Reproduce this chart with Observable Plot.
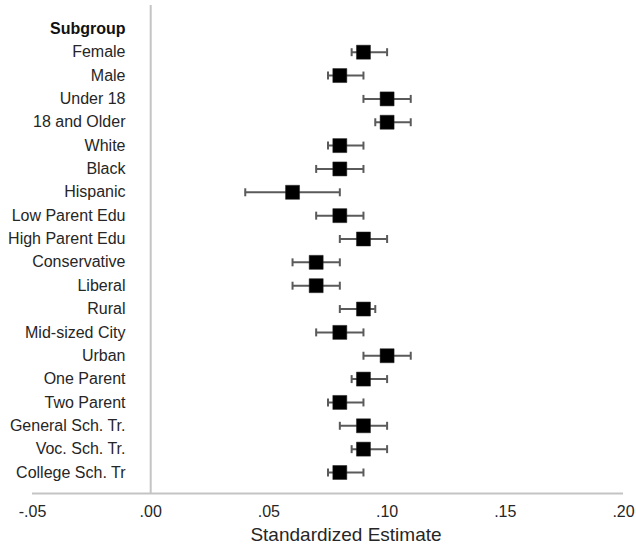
<!DOCTYPE html>
<html>
<head>
<meta charset="utf-8">
<script src="https://cdn.jsdelivr.net/npm/d3@7"></script>
<script src="https://cdn.jsdelivr.net/npm/@observablehq/plot@0.6"></script>
<style>
  html, body { margin: 0; padding: 0; background: #fff; }
  #chart { width: 636px; height: 554px; }
</style>
</head>
<body>
<div id="chart"></div>
<script>
const header = "Subgroup";
const groups = ["Female","Male","Under 18","18 and Older","White","Black","Hispanic",
  "Low Parent Edu","High Parent Edu","Conservative","Liberal","Rural","Mid-sized City",
  "Urban","One Parent","Two Parent","General Sch. Tr.","Voc. Sch. Tr.","College Sch. Tr"];
const estimates = [0.09,0.08,0.10,0.10,0.08,0.08,0.06,0.08,0.09,0.07,0.07,0.09,0.08,0.10,0.09,0.08,0.09,0.09,0.08];
const lower = [0.085,0.075,0.09,0.095,0.075,0.07,0.04,0.07,0.08,0.06,0.06,0.08,0.07,0.09,0.085,0.075,0.08,0.085,0.075];
const upper = [0.10,0.09,0.11,0.11,0.09,0.09,0.08,0.09,0.10,0.08,0.08,0.095,0.09,0.11,0.10,0.09,0.10,0.10,0.09];
const xTicks = [-0.05, 0, 0.05, 0.10, 0.15, 0.20];
const xLabel = "Standardized Estimate";

const rows = groups.map((g, i) => ({group: g, row: i + 1, est: estimates[i], lo: lower[i], hi: upper[i]}));
const fmt = d => d3.format(".2f")(d).replace("0.", ".").replace("\u2212", "-");
const capSymbol = {draw(ctx, size) { const h = Math.sqrt(size); ctx.moveTo(0, -h / 2); ctx.lineTo(0, h / 2); }};
const barColor = "#5a5a5a";
const gridColor = "#c4c4c4";
const textColor = "#262626";

const chart = Plot.plot({
  width: 636,
  height: 554,
  marginTop: 5,
  marginBottom: 61,
  marginLeft: 32,
  marginRight: 13,
  style: {fontFamily: "'Liberation Sans', Arial, sans-serif", background: "#fff", color: textColor},
  x: {domain: [-0.05, 0.20], ticks: xTicks, tickFormat: fmt},
  y: {domain: [19.9, -1], axis: null},
  marks: [
    Plot.ruleX([0], {stroke: gridColor, strokeWidth: 2}),
    Plot.ruleY([19.9], {stroke: gridColor, strokeWidth: 2}),
    Plot.axisX({ticks: xTicks, tickFormat: fmt, tickSize: 0, tickPadding: 12, fontSize: 16, label: null, fill: textColor}),
    Plot.text([xLabel], {frameAnchor: "bottom", dy: 47, dx: 18, text: d => d, fontSize: 19, fill: textColor}),
    Plot.text([header], {frameAnchor: "left", y: () => 0, dx: 93, text: d => d, textAnchor: "end", fontSize: 16, fontWeight: "bold", fill: "#111"}),
    Plot.text(rows, {frameAnchor: "left", y: "row", dx: 93, text: "group", textAnchor: "end", fontSize: 16, fill: textColor}),
    Plot.ruleY(rows, {y: "row", x1: "lo", x2: "hi", stroke: barColor, strokeWidth: 2}),
    Plot.dot(rows, {x: "lo", y: "row", symbol: capSymbol, r: 4.5, stroke: barColor, strokeWidth: 2, fill: "none"}),
    Plot.dot(rows, {x: "hi", y: "row", symbol: capSymbol, r: 4.5, stroke: barColor, strokeWidth: 2, fill: "none"}),
    Plot.dot(rows, {x: "est", y: "row", symbol: "square", r: 7.9, fill: "#000", stroke: "#222", strokeWidth: 0.5})
  ]
});
document.getElementById("chart").appendChild(chart);
</script>
</body>
</html>
